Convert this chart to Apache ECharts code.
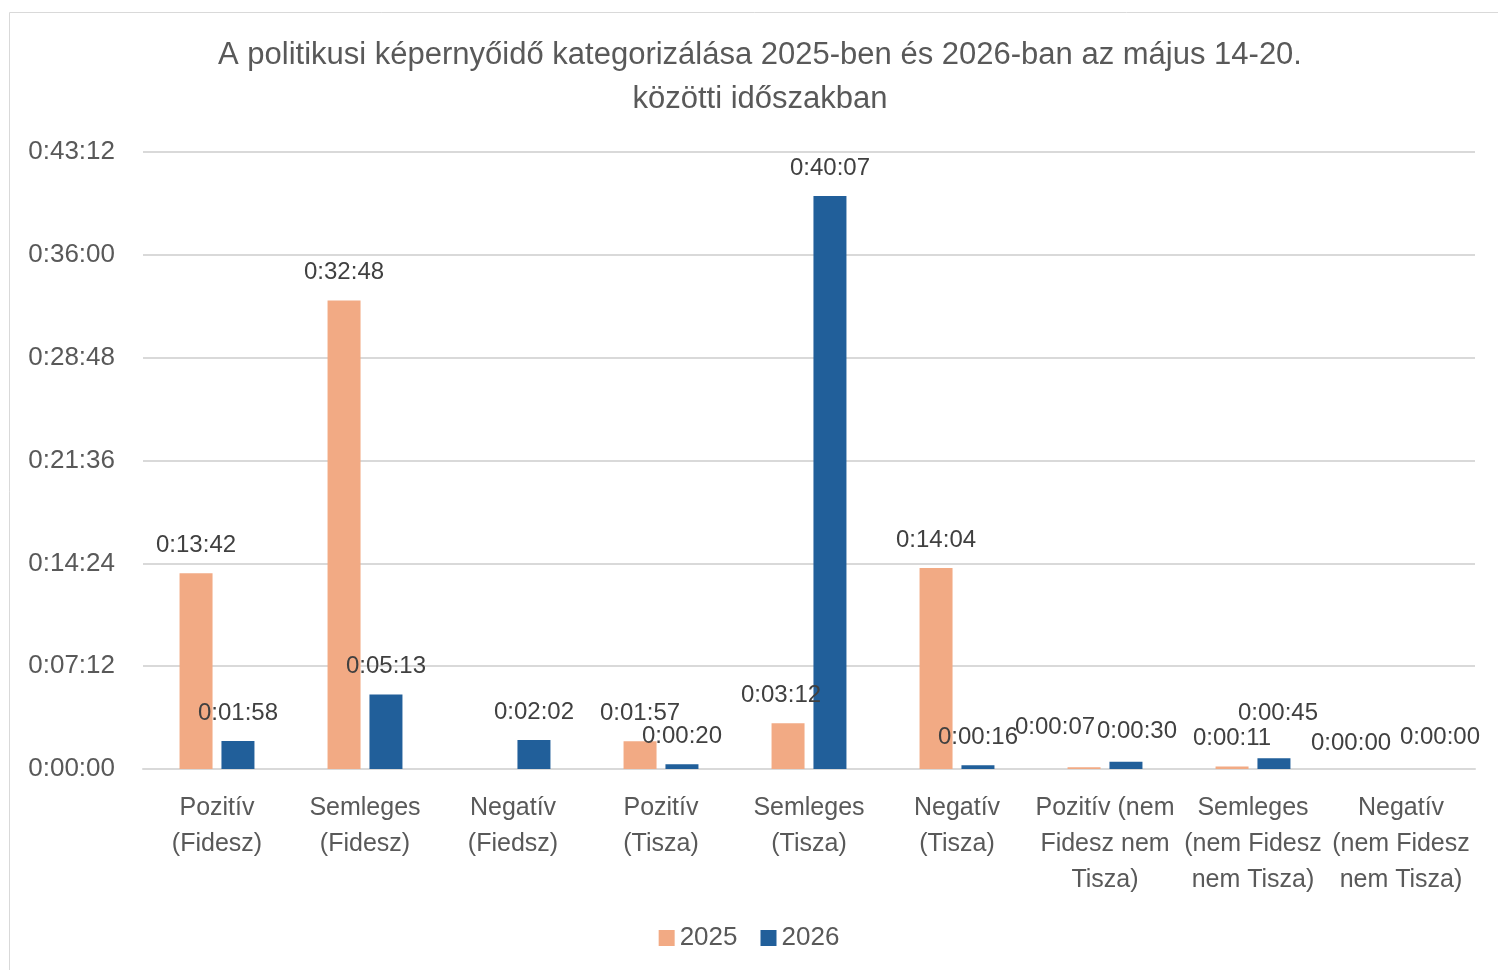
<!DOCTYPE html>
<html>
<head>
<meta charset="utf-8">
<script src="https://cdn.jsdelivr.net/npm/echarts@6/dist/echarts.min.js"></script>
<style>
  html, body { margin: 0; padding: 0; background: #fff; }
  #main { width: 1498px; height: 970px; }
</style>
</head>
<body>
<div id="main"></div>
<script>
// kategóriák (sortöréssel, ahogy az eredetin)
var categories = [
  "Pozitív\n(Fidesz)",
  "Semleges\n(Fidesz)",
  "Negatív\n(Fiedsz)",
  "Pozitív\n(Tisza)",
  "Semleges\n(Tisza)",
  "Negatív\n(Tisza)",
  "Pozitív (nem\nFidesz nem\nTisza)",
  "Semleges\n(nem Fidesz\nnem Tisza)",
  "Negatív\n(nem Fidesz\nnem Tisza)"
];
// másodpercben
var values2025 = [822, 1968, null, 117, 192, 844, 7, 11, 0];
var values2026 = [118, 313, 122, 20, 2407, 16, 30, 45, 0];
var seriesNames = ["2025", "2026"];

// címkék eltolása a kis oszlopoknál (index -> [dx, dy])
var nudge2025 = { 4: [-7, 0], 6: [-29, -12], 8: [-29, 2] };
var nudge2026 = { 6: [11, -2], 7: [4, -17], 8: [18, -4] };

function fmt(sec) {
  var h = Math.floor(sec / 3600);
  var m = Math.floor((sec % 3600) / 60);
  var s = Math.round(sec % 60);
  return h + ":" + (m < 10 ? "0" : "") + m + ":" + (s < 10 ? "0" : "") + s;
}

function withNudge(values, nudge) {
  return values.map(function (v, i) {
    if (nudge[i]) {
      return { value: v, label: { offset: nudge[i] } };
    }
    return v;
  });
}

var chartDom = document.getElementById("main");
var myChart = echarts.init(chartDom);
var font = "Liberation Sans";

var labelStyle = {
  show: true,
  position: "top",
  distance: 16,
  fontFamily: font,
  fontSize: 24,
  color: "#404040",
  formatter: function (p) { return p.value == null ? "" : fmt(p.value); }
};

var option = {
  animation: false,
  textStyle: { fontFamily: font },
  graphic: [
    {
      type: "rect",
      shape: { x: 9.5, y: 12.5, width: 1500, height: 960 },
      style: { fill: "none", stroke: "#d9d9d9", lineWidth: 1 },
      silent: true
    }
  ],
  title: {
    text: "A politikusi képernyőidő kategorizálása 2025-ben és 2026-ban az május 14-20.\nközötti időszakban",
    left: 755,
    top: 28,
    textAlign: "center",
    textStyle: {
      fontFamily: font,
      fontSize: 31,
      fontWeight: "normal",
      color: "#595959",
      lineHeight: 44
    }
  },
  legend: {
    bottom: 14,
    left: "center",
    itemWidth: 16,
    itemHeight: 16,
    itemGap: 23,
    icon: "rect",
    textStyle: { fontFamily: font, fontSize: 26, color: "#595959" }
  },
  grid: { left: 143, right: 23, top: 152, bottom: 201 },
  xAxis: {
    type: "category",
    data: categories,
    axisLine: { lineStyle: { color: "#d9d9d9", width: 2 } },
    axisTick: { show: false },
    axisLabel: {
      fontFamily: font,
      fontSize: 25,
      color: "#595959",
      lineHeight: 36,
      margin: 21,
      interval: 0
    }
  },
  yAxis: {
    type: "value",
    min: 0,
    max: 2592,
    interval: 432,
    axisLine: { show: false },
    axisTick: { show: false },
    splitLine: { lineStyle: { color: "#d9d9d9", width: 2 } },
    axisLabel: {
      fontFamily: font,
      fontSize: 26,
      color: "#595959",
      margin: 28,
      formatter: function (v) { return fmt(v); }
    }
  },
  series: [
    {
      name: seriesNames[0],
      type: "bar",
      data: withNudge(values2025, nudge2025),
      barWidth: 33,
      barGap: "27%",
      itemStyle: { color: "#F2AA84" },
      label: labelStyle
    },
    {
      name: seriesNames[1],
      type: "bar",
      data: withNudge(values2026, nudge2026),
      barWidth: 33,
      itemStyle: { color: "#215F9A" },
      label: labelStyle
    }
  ]
};

option && myChart.setOption(option);
</script>
</body>
</html>
